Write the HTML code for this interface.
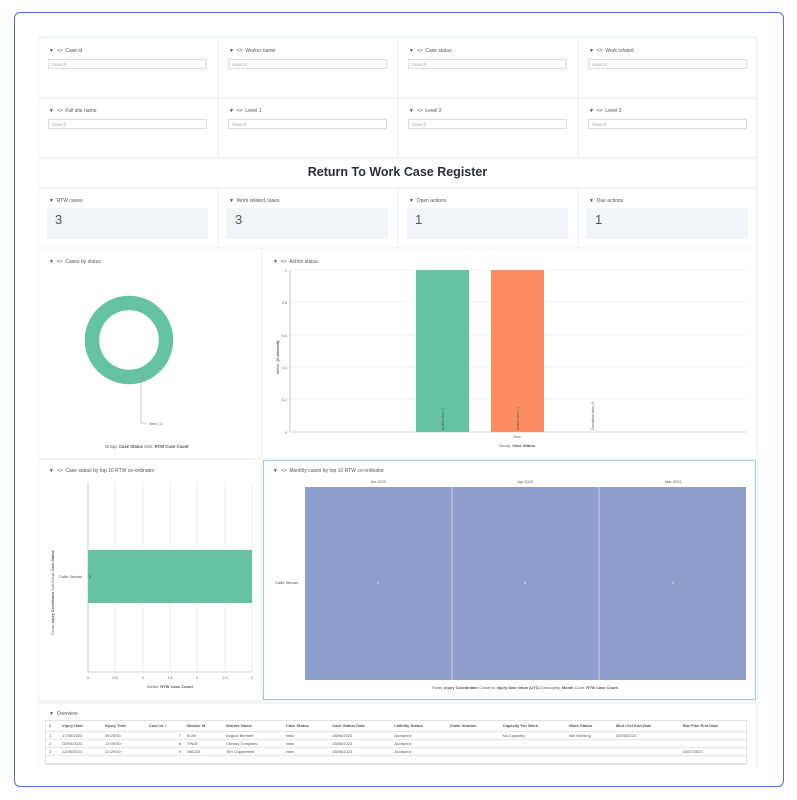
<!DOCTYPE html>
<html><head><meta charset="utf-8"><style>
*{margin:0;padding:0;box-sizing:border-box}
body{width:797px;height:800px;background:#fff;font-family:"Liberation Sans",sans-serif;position:relative;overflow:hidden;color:#444}
.a{position:absolute}
.frame{left:14px;top:12px;width:770px;height:775px;border:1.5px solid #4d6fe0;border-radius:6px}
.bg{left:38px;top:36px;width:720px;height:732px;background:#f4f5f7}
.p{position:absolute;background:#fff}
.lbl{position:absolute;font-size:5px;color:#555;white-space:nowrap}
.inp{position:absolute;height:10px;border:1px solid #ddd;background:#fff;font-size:4.5px;color:#aaa;padding:2px 3px}
.kbox{position:absolute;background:#f3f4f7;font-size:13px;color:#555;padding:4px 8px}
.t{position:absolute;font-size:4.5px;color:#666;white-space:nowrap}
table{border-collapse:collapse;font-size:4px;color:#555}
td,th{border-bottom:1px solid #e5e5e5;height:8px;padding:0 3px;text-align:left;white-space:nowrap}
th{font-weight:bold;height:10px}
</style></head><body>
<div class="a frame"></div>
<div class="a bg"></div>

<!-- filter rows -->
<div class="p" style="left:39px;top:39px;width:178px;height:58px"></div>
<div class="p" style="left:219px;top:39px;width:178px;height:58px"></div>
<div class="p" style="left:399px;top:39px;width:178px;height:58px"></div>
<div class="p" style="left:579px;top:39px;width:177px;height:58px"></div>
<div class="p" style="left:39px;top:99px;width:178px;height:58px"></div>
<div class="p" style="left:219px;top:99px;width:178px;height:58px"></div>
<div class="p" style="left:399px;top:99px;width:178px;height:58px"></div>
<div class="p" style="left:579px;top:99px;width:177px;height:58px"></div>
<div class="lbl" style="left:49px;top:48px">▼ &nbsp;&lt;&gt; &nbsp;Case id</div>
<div class="lbl" style="left:229px;top:48px">▼ &nbsp;&lt;&gt; &nbsp;Worker name</div>
<div class="lbl" style="left:409px;top:48px">▼ &nbsp;&lt;&gt; &nbsp;Case status</div>
<div class="lbl" style="left:589px;top:48px">▼ &nbsp;&lt;&gt; &nbsp;Work related</div>
<div class="lbl" style="left:49px;top:108px">▼ &nbsp;&lt;&gt; &nbsp;Full site name</div>
<div class="lbl" style="left:229px;top:108px">▼ &nbsp;&lt;&gt; &nbsp;Level 1</div>
<div class="lbl" style="left:409px;top:108px">▼ &nbsp;&lt;&gt; &nbsp;Level 2</div>
<div class="lbl" style="left:589px;top:108px">▼ &nbsp;&lt;&gt; &nbsp;Level 3</div>
<div class="inp" style="left:48px;top:59px;width:159px">Search</div>
<div class="inp" style="left:228px;top:59px;width:159px">Search</div>
<div class="inp" style="left:408px;top:59px;width:159px">Search</div>
<div class="inp" style="left:588px;top:59px;width:159px">Search</div>
<div class="inp" style="left:48px;top:119px;width:159px">Search</div>
<div class="inp" style="left:228px;top:119px;width:159px">Search</div>
<div class="inp" style="left:408px;top:119px;width:159px">Search</div>
<div class="inp" style="left:588px;top:119px;width:159px">Search</div>

<!-- title -->
<div class="p" style="left:39px;top:159px;width:717px;height:28px"></div>
<div class="a" style="left:39px;top:165px;width:717px;text-align:center;font-size:12.5px;font-weight:bold;color:#2b2f3a">Return To Work Case Register</div>

<!-- KPIs -->
<div class="p" style="left:39px;top:189px;width:178px;height:58px"></div>
<div class="p" style="left:219px;top:189px;width:178px;height:58px"></div>
<div class="p" style="left:399px;top:189px;width:178px;height:58px"></div>
<div class="p" style="left:579px;top:189px;width:177px;height:58px"></div>
<div class="lbl" style="left:49px;top:198px">▼ &nbsp;RTW cases</div>
<div class="lbl" style="left:229px;top:198px">▼ &nbsp;Work related cases</div>
<div class="lbl" style="left:409px;top:198px">▼ &nbsp;Open actions</div>
<div class="lbl" style="left:589px;top:198px">▼ &nbsp;Due actions</div>
<div class="kbox" style="left:47px;top:208px;width:161px;height:31px">3</div>
<div class="kbox" style="left:227px;top:208px;width:161px;height:31px">3</div>
<div class="kbox" style="left:407px;top:208px;width:161px;height:31px">1</div>
<div class="kbox" style="left:587px;top:208px;width:161px;height:31px">1</div>

<!-- Cases by status -->
<div class="p" style="left:39px;top:249px;width:222px;height:209px"></div>
<div class="lbl" style="left:49px;top:259px">▼ &nbsp;&lt;&gt; &nbsp;Cases by status</div>
<svg class="a" style="left:39px;top:249px" width="222" height="209">
<circle cx="90" cy="91" r="37" fill="none" stroke="#65c2a3" stroke-width="14.5"/>
<line x1="102" y1="128" x2="102" y2="174" stroke="#999" stroke-width="0.5"/>
<line x1="102" y1="174" x2="108" y2="174" stroke="#999" stroke-width="0.5"/>
<text x="110" y="176" font-size="4" fill="#666" font-family="Liberation Sans">New | 3</text>
<text x="66" y="199" font-size="4.2" fill="#555" font-family="Liberation Sans">Group: <tspan font-weight="bold">Case Status</tspan>  Size: <tspan font-weight="bold">RTW Case Count</tspan></text>
</svg>

<!-- Action status -->
<div class="p" style="left:263px;top:249px;width:493px;height:209px"></div>
<div class="lbl" style="left:273px;top:259px">▼ &nbsp;&lt;&gt; &nbsp;Action status</div>
<svg class="a" style="left:263px;top:249px" width="493" height="209" font-family="Liberation Sans">
<g stroke="#e6e6e6" stroke-width="0.6">
<line x1="27" y1="21" x2="483" y2="21"/><line x1="27" y1="53" x2="483" y2="53"/><line x1="27" y1="86" x2="483" y2="86"/><line x1="27" y1="118" x2="483" y2="118"/><line x1="27" y1="150" x2="483" y2="150"/></g>
<line x1="27" y1="21" x2="27" y2="183" stroke="#aaa" stroke-width="0.6"/>
<line x1="27" y1="183" x2="483" y2="183" stroke="#aaa" stroke-width="0.6"/>
<g font-size="3.8" fill="#666" text-anchor="end">
<text x="24" y="23">1</text><text x="24" y="55">0.8</text><text x="24" y="88">0.6</text><text x="24" y="120">0.4</text><text x="24" y="152">0.2</text><text x="24" y="185">0</text></g>
<text x="0" y="0" font-size="3.8" fill="#555" transform="translate(16,125) rotate(-90)">Metric: <tspan font-weight="bold">(3 selected)</tspan></text>
<rect x="153" y="21" width="53" height="162" fill="#65c2a3"/>
<rect x="228" y="21" width="53" height="162" fill="#fc8d62"/>
<g font-size="3.3" fill="#555">
<text transform="translate(181,181) rotate(-90)">Actions Due | 1</text>
<text transform="translate(256,181) rotate(-90)">Actions Over | 1</text>
<text transform="translate(331,181) rotate(-90)">Completed actio | 0</text></g>
<text x="254" y="189" font-size="3.8" fill="#666" text-anchor="middle">New</text>
<text x="254" y="198" font-size="4" fill="#555" text-anchor="middle">Group: <tspan font-weight="bold">Case Status</tspan></text>
</svg>

<!-- Case status by top 10 -->
<div class="p" style="left:39px;top:460px;width:222px;height:240px"></div>
<div class="lbl" style="left:49px;top:468px">▼ &nbsp;&lt;&gt; &nbsp;Case status by top 10 RTW co-ordinator</div>
<svg class="a" style="left:39px;top:460px" width="222" height="240" font-family="Liberation Sans">
<g stroke="#e3e3e3" stroke-width="0.6">
<line x1="76" y1="22" x2="76" y2="212"/><line x1="104" y1="22" x2="104" y2="212"/><line x1="131" y1="22" x2="131" y2="212"/><line x1="158" y1="22" x2="158" y2="212"/><line x1="186" y1="22" x2="186" y2="212"/><line x1="213" y1="22" x2="213" y2="212"/></g>
<line x1="49" y1="22" x2="49" y2="212" stroke="#aaa" stroke-width="0.6"/>
<line x1="49" y1="212" x2="213" y2="212" stroke="#aaa" stroke-width="0.6"/>
<rect x="49" y="90" width="164" height="53" fill="#65c2a3"/>
<g font-size="3.8" fill="#666" text-anchor="middle">
<text x="49" y="219">0</text><text x="76" y="219">0.5</text><text x="104" y="219">1</text><text x="131" y="219">1.5</text><text x="158" y="219">2</text><text x="186" y="219">2.5</text><text x="213" y="219">3</text></g>
<text x="131" y="228" font-size="4" fill="#555" text-anchor="middle">Metric: <tspan font-weight="bold">RTW Case Count</tspan></text>
<text x="20" y="118" font-size="3.8" fill="#555">Callie Stewart</text>
<text x="50" y="118" font-size="3.5" fill="#333">3</text>
<text font-size="3.6" fill="#555" transform="translate(15,175) rotate(-90)">Group: <tspan font-weight="bold">Injury Coordinator</tspan>   Sub-Group: <tspan font-weight="bold">Case Status</tspan></text>
</svg>

<!-- Monthly cases -->
<div class="p" style="left:263px;top:460px;width:493px;height:240px;border:1px solid #a9cbe0"></div>
<div class="lbl" style="left:273px;top:468px">▼ &nbsp;&lt;&gt; &nbsp;Monthly cases by top 10 RTW co-ordinator</div>
<svg class="a" style="left:263px;top:460px" width="493" height="240" font-family="Liberation Sans">
<rect x="42" y="27" width="441" height="193" fill="#8e9dcb"/>
<line x1="189" y1="27" x2="189" y2="220" stroke="#dfe3f0" stroke-width="0.8"/>
<line x1="336" y1="27" x2="336" y2="220" stroke="#dfe3f0" stroke-width="0.8"/>
<g font-size="3.8" fill="#555" text-anchor="middle">
<text x="115" y="23">Jun 2023</text><text x="262" y="23">Apr 2023</text><text x="410" y="23">Mar 2023</text></g>
<g font-size="3.8" fill="#fff" text-anchor="middle">
<text x="115" y="124">1</text><text x="262" y="124">1</text><text x="410" y="124">1</text></g>
<text x="12" y="124" font-size="3.8" fill="#555">Callie Stewart</text>
<text x="262" y="229" font-size="3.9" fill="#555" text-anchor="middle">Rows: <tspan font-weight="bold">Injury Coordinator</tspan>   Columns: <tspan font-weight="bold">Injury Date Value (UTC)</tspan>   Granularity: <tspan font-weight="bold">Month</tspan>   Color: <tspan font-weight="bold">RTW Case Count</tspan></text>
</svg>

<!-- Overview -->
<div class="p" style="left:39px;top:704px;width:717px;height:64px"></div>
<div class="lbl" style="left:49px;top:711px">▼ &nbsp;Overview</div>
<div class="a" style="left:45px;top:720px;width:702px;border:1px solid #e3e3e3">
<table style="width:100%">
<tr><th>#</th><th>Injury Date</th><th>Injury Time</th><th>Case Id ?</th><th>Worker Id</th><th>Worker Name</th><th>Case Status</th><th>Case Status Date</th><th>Liability Status</th><th>Claim Number</th><th>Capacity For Work</th><th>Work Status</th><th>Med Cert End Date</th><th>Rtw Plan End Date</th></tr>
<tr><td>1</td><td>17/04/2023</td><td>09:25:00</td><td style="text-align:right">7</td><td>5139</td><td>August Bennett</td><td>New</td><td>18/06/2023</td><td>Accepted</td><td></td><td>No Capacity</td><td>Not Working</td><td>20/06/2023</td><td></td></tr>
<tr><td>2</td><td>02/03/2023</td><td>12:05:00</td><td style="text-align:right">8</td><td>TIN01</td><td>Chrissy Tompkins</td><td>New</td><td>15/06/2023</td><td>Accepted</td><td></td><td></td><td></td><td></td><td></td></tr>
<tr><td>3</td><td>11/06/2023</td><td>12:29:00</td><td style="text-align:right">9</td><td>186233</td><td>Tim Copperfield</td><td>New</td><td>15/06/2023</td><td>Accepted</td><td></td><td></td><td></td><td></td><td>15/07/2023</td></tr>
<tr><td style="height:8px"></td><td></td><td></td><td></td><td></td><td></td><td></td><td></td><td></td><td></td><td></td><td></td><td></td><td></td></tr>
</table></div>
</body></html>
